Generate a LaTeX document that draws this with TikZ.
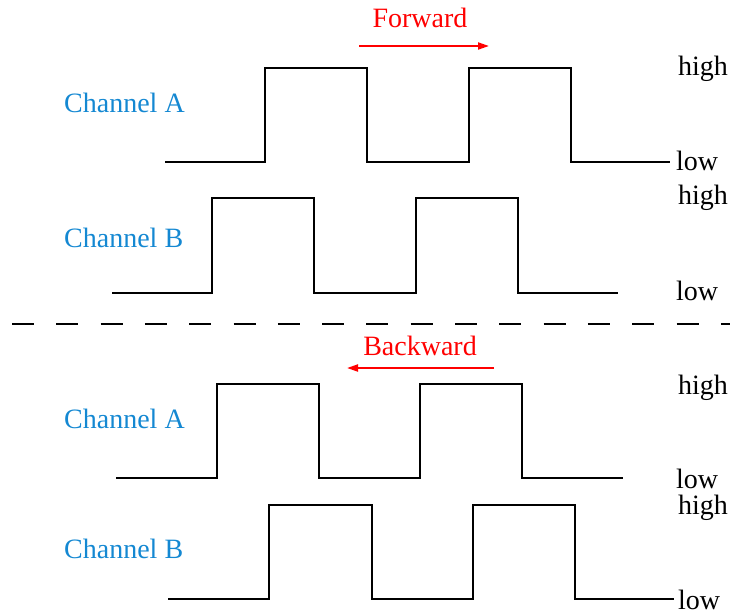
\documentclass[tikz,border=0pt]{standalone}
\usepackage{fontspec}
\setmainfont{Liberation Serif}
\usetikzlibrary{arrows.meta}
\definecolor{chblue}{RGB}{20,136,210}
\definecolor{dirred}{RGB}{255,0,0}
\begin{document}
\begin{tikzpicture}[x=1pt,y=-1pt,
  wave/.style={line width=2pt, line join=miter},
  txt/.style={inner sep=0pt, font=\fontsize{28}{33}\selectfont},
  chlabel/.style={txt, anchor=base west, text=chblue},
  level/.style={txt, anchor=base west, text=black},
  dirlabel/.style={txt, anchor=base, text=dirred},
  dirarrow/.style={draw=dirred, line width=2pt, -{Triangle[length=11pt,width=7pt]}},
  divider/.style={line width=2.5pt, dash pattern=on 22pt off 22.3pt}]
\useasboundingbox (0,0) rectangle (730,611);

% direction labels and arrows
\node[dirlabel] (fwd) at (420,27) {Forward};
\coordinate (f1) at (359,46);
\coordinate (f2) at (489,46);
\draw[dirarrow] (f1) -- (f2);

\node[dirlabel] (bwd) at (420,355) {Backward};
\coordinate (b1) at (494,368);
\coordinate (b2) at (347,368);
\draw[dirarrow] (b1) -- (b2);

% channel labels
\node[chlabel] (ca1) at (64,112.5) {Channel A};
\node[chlabel] (cb1) at (64,247.5) {Channel B};
\node[chlabel] (ca2) at (64,428.5) {Channel A};
\node[chlabel] (cb2) at (64,558.5) {Channel B};

% level labels
\node[level] (h1) at (678,75) {high};
\node[level] (l1) at (676,170) {low};
\node[level] (h2) at (678,204) {high};
\node[level] (l2) at (676,300) {low};
\node[level] (h3) at (678,394) {high};
\node[level] (l3) at (676,488) {low};
\node[level] (h4) at (678,514) {high};
\node[level] (l4) at (678,609) {low};

% waveforms
\draw[wave] (165,162) -| (265,68) -| (367,162) -| (469,68) -| (571,162) -- (670,162);
\draw[wave] (112,293) -| (212,198) -| (314,293) -| (416,198) -| (518,293) -- (618,293);
\draw[wave] (116,478) -| (217,384) -| (319,478) -| (420,384) -| (522,478) -- (623,478);
\draw[wave] (168,599) -| (269,505) -| (372,599) -| (473,505) -| (575,599) -- (674,599);

% divider
\coordinate (d1) at (12,324);
\coordinate (d2) at (735,324);
\draw[divider] (d1) -- (d2);
\end{tikzpicture}
\end{document}
